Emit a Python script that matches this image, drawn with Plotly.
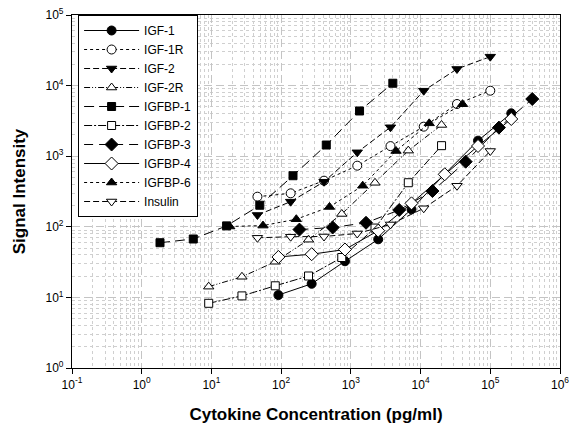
import plotly.graph_objects as go

# ---- data ----
series_names = ["IGF-1", "IGF-1R", "IGF-2", "IGF-2R", "IGFBP-1",
                "IGFBP-2", "IGFBP-3", "IGFBP-4", "IGFBP-6", "Insulin"]

x_igf1 = [91.4, 274, 823, 2470, 7410, 22200, 66700, 200000]
y_igf1 = [10.8, 15.6, 32.5, 66.5, 177, 560, 1660, 4050]

x_igf1r = [45.7, 137, 412, 1235, 3700, 11100, 33300, 100000]
y_igf1r = [267, 298, 450, 734, 1390, 2620, 5490, 8470]

x_igf2 = [45.7, 137, 412, 1235, 3700, 11100, 33300, 100000]
y_igf2 = [147, 227, 435, 1135, 2570, 8470, 17200, 25700]

x_igf2r = [9.14, 27.4, 82.3, 247, 741, 2220, 6670, 20000]
y_igf2r = [14.2, 19.6, 32.0, 65.7, 152, 420, 1200, 2770]

x_igfbp1 = [1.83, 5.49, 16.5, 49.4, 148, 444, 1333, 4000]
y_igfbp1 = [59.5, 67.2, 103, 202, 529, 1440, 4370, 10800]

x_igfbp2 = [9.14, 27.4, 82.3, 247, 741, 2220, 6670, 20000]
y_igfbp2 = [8.25, 10.5, 14.6, 20.1, 36.7, 96, 421, 1410]

x_igfbp3 = [183, 549, 1650, 4940, 14800, 44400, 133000, 400000]
y_igfbp3 = [91.3, 97.8, 114, 173, 321, 836, 2540, 6460]

x_igfbp4 = [91.4, 274, 823, 2470, 7410, 22200, 66700, 200000]
y_igfbp4 = [37.4, 40.9, 47.7, 88.1, 215, 554, 1395, 3365]

x_igfbp6 = [18.3, 54.9, 165, 494, 1480, 4440, 13300, 40000]
y_igfbp6 = [101, 104, 128, 191, 382, 1185, 2920, 5450]

x_insulin = [45.7, 137, 412, 1235, 3700, 11100, 33300, 100000]
y_insulin = [69.8, 72.4, 72.9, 80.4, 108, 183, 381, 1185]

x_tick_vals = [0.1, 1, 10, 100, 1000, 10000, 100000, 1000000]
x_tick_text = ["10<sup>-1</sup>", "10<sup>0</sup>", "10<sup>1</sup>", "10<sup>2</sup>",
               "10<sup>3</sup>", "10<sup>4</sup>", "10<sup>5</sup>", "10<sup>6</sup>"]
y_tick_vals = [1, 10, 100, 1000, 10000, 100000]
y_tick_text = ["10<sup>0</sup>", "10<sup>1</sup>", "10<sup>2</sup>",
               "10<sup>3</sup>", "10<sup>4</sup>", "10<sup>5</sup>"]

# ---- styles ----
xs = [x_igf1, x_igf1r, x_igf2, x_igf2r, x_igfbp1, x_igfbp2, x_igfbp3, x_igfbp4, x_igfbp6, x_insulin]
ys = [y_igf1, y_igf1r, y_igf2, y_igf2r, y_igfbp1, y_igfbp2, y_igfbp3, y_igfbp4, y_igfbp6, y_insulin]
symbols = ["circle", "circle", "triangle-down", "triangle-up", "square",
           "square", "diamond", "diamond", "triangle-up", "triangle-down"]
filled = [True, False, True, False, True, False, True, False, True, False]
dashes = ["solid", "dot", "6px,3px", "6px,2px,1px,2px,1px,2px", "10px,5px",
          "8px,2px,2px,2px", "9px,6px", "solid", "dot", "6px,3px"]
sizes = [9, 9, 9, 9, 8, 8, 10, 10, 9, 9]

fig = go.Figure()
for name, x, y, sym, fl, dsh, sz in zip(series_names, xs, ys, symbols, filled, dashes, sizes):
    fig.add_trace(go.Scatter(
        x=x, y=y, name=name, mode="lines+markers",
        line=dict(color="black", width=1, dash=dsh),
        marker=dict(symbol=sym, size=sz, color="black" if fl else "white",
                    line=dict(color="black", width=1)),
    ))

minor_x = [m * 10 ** k for k in range(-1, 6) for m in range(2, 10)]
minor_y = [m * 10 ** k for k in range(0, 5) for m in range(2, 10)]

axis_common = dict(
    type="log", showline=True, linecolor="black", linewidth=1.2, mirror=True,
    ticks="outside", ticklen=5, tickcolor="black",
    showgrid=True, gridcolor="#c4c4c4", gridwidth=1.3, griddash="8px,4px",
    zeroline=False, tickfont=dict(size=12, color="black"),
    ticklabeloverflow="allow", automargin=False,
)

fig.update_xaxes(
    **axis_common, range=[-1, 6], tickmode="array",
    tickvals=x_tick_vals, ticktext=x_tick_text,
    minor=dict(tickmode="array", tickvals=minor_x, showgrid=True,
               gridcolor="#cfcfcf", griddash="dot", gridwidth=1, ticks=""),
    title=dict(text="Cytokine Concentration (pg/ml)",
               font=dict(size=17, color="black", weight="bold"), standoff=17),
)
fig.update_yaxes(
    **axis_common, range=[0, 5], tickmode="array",
    tickvals=y_tick_vals, ticktext=y_tick_text,
    minor=dict(tickmode="array", tickvals=minor_y, showgrid=True,
               gridcolor="#cfcfcf", griddash="dot", gridwidth=1, ticks=""),
    title=dict(text="Signal Intensity",
               font=dict(size=17, color="black", weight="bold"), standoff=15),
)

fig.update_layout(
    width=579, height=435,
    margin=dict(l=72, r=19, t=15, b=67),
    paper_bgcolor="white", plot_bgcolor="white",
    font=dict(family="Arial, Liberation Sans, sans-serif", color="black"),
    legend=dict(x=0.0125, y=1, xanchor="left", yanchor="top",
                bgcolor="white", bordercolor="black", borderwidth=1,
                font=dict(size=12), itemwidth=55, tracegroupgap=0),
    showlegend=True,
)

# remove the browser's default body margin so the figure fills the window
fig.write_html("out.html",
               config={"displayModeBar": False},
               post_script="document.body.style.margin='0px';document.body.style.overflow='hidden';")
